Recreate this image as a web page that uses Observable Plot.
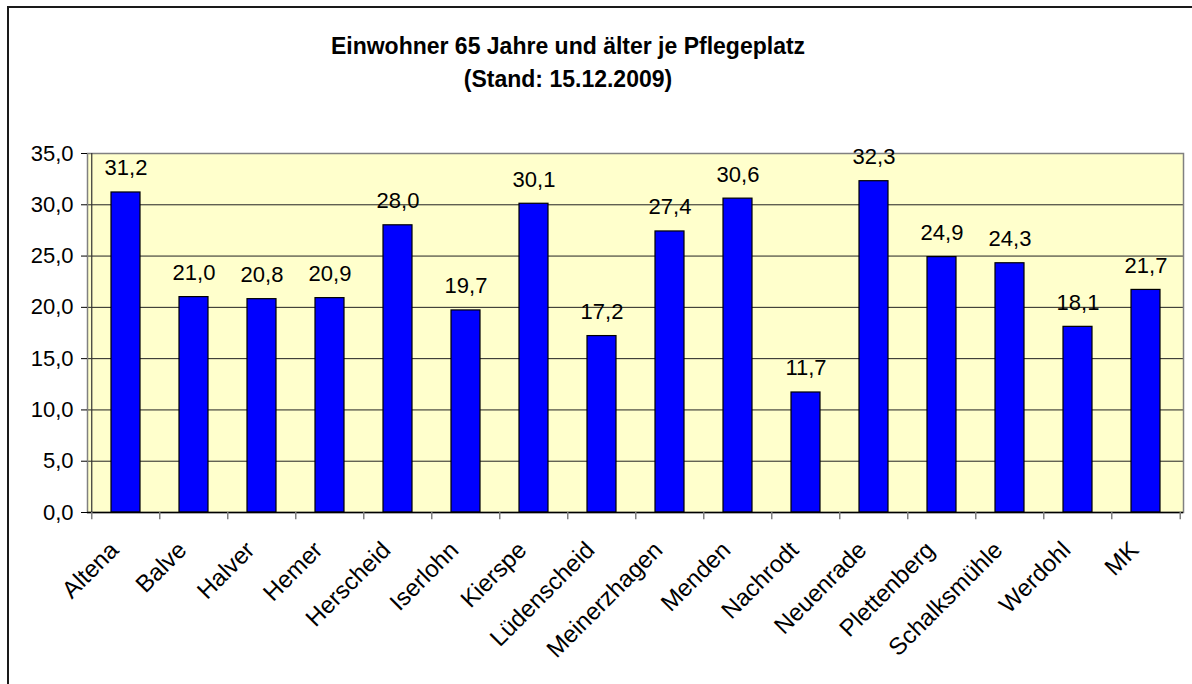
<!DOCTYPE html>
<html>
<head>
<meta charset="utf-8">
<script src="https://cdn.jsdelivr.net/npm/d3@7"></script>
<script src="https://cdn.jsdelivr.net/npm/@observablehq/plot@0.6"></script>
<style>
  html, body { margin: 0; padding: 0; background: #fff; }
  body { width: 1192px; height: 684px; position: relative; overflow: hidden; font-family: "Liberation Sans", Arial, sans-serif; }
  #frame { position: absolute; left: 7px; top: 6px; width: 1300px; height: 800px; border-left: 2px solid #1a1a1a; border-top: 2px solid #1a1a1a; }
  #title { position: absolute; left: 268px; width: 600px; top: 30px; text-align: center; font-weight: bold; font-size: 23px; line-height: 33px; color: #000; z-index: 2; }
  #chart { position: absolute; left: 0; top: 0; }
</style>
</head>
<body>
<div id="frame"></div>
<div id="title">Einwohner 65 Jahre und älter je Pflegeplatz<br>(Stand: 15.12.2009)</div>
<div id="chart"></div>
<script>
const categories = ["Altena", "Balve", "Halver", "Hemer", "Herscheid", "Iserlohn", "Kierspe", "Lüdenscheid", "Meinerzhagen", "Menden", "Nachrodt", "Neuenrade", "Plettenberg", "Schalksmühle", "Werdohl", "MK"];
const values = [31.2, 21.0, 20.8, 20.9, 28.0, 19.7, 30.1, 17.2, 27.4, 30.6, 11.7, 32.3, 24.9, 24.3, 18.1, 21.7];
const yTicks = [0, 5, 10, 15, 20, 25, 30, 35];

const data = categories.map((c, i) => ({ name: c, value: values[i] }));
const fmt = d => d.toFixed(1).replace(".", ",");

const W = 1192, H = 684, ML = 87, MR = 9, MT = 153, MB = 172;
const step = (W - ML - MR) / categories.length;

const plot = Plot.plot({
  width: W,
  height: H,
  marginLeft: ML,
  marginRight: MR,
  marginTop: MT,
  marginBottom: MB,
  style: { fontFamily: "'Liberation Sans', Arial, sans-serif", fontSize: "22px", color: "#000", background: "transparent", overflow: "visible" },
  x: { domain: categories, paddingInner: 0.577, paddingOuter: 0.2885, axis: null },
  y: { domain: [0, 35], axis: null },
  marks: [
    Plot.frame({ fill: "#ffffcc", stroke: null }),
    Plot.ruleY(yTicks.filter(d => d > 0), { stroke: "#222", strokeWidth: 1 }),
    Plot.frame({ stroke: "#808080", strokeWidth: 1.5 }),
    Plot.barY(data, { x: "name", y: "value", fill: "#0000ff", stroke: "#000", strokeWidth: 1.2 }),
    Plot.text(data, { x: "name", y: "value", text: d => fmt(d.value), dy: -17, lineAnchor: "bottom", fontSize: 22, fill: "#000" }),
    // y axis
    Plot.axisY({ ticks: yTicks, tickFormat: fmt, tickSize: 6, tickPadding: 8, fontSize: 22, stroke: "#000", label: null }),
    Plot.ruleX(categories.slice(0, 1), { x: d => d, y1: 0, y2: 35, dx: -step / 2, stroke: "#333", strokeWidth: 1.2 }),
    Plot.ruleY([0], { stroke: "#000", strokeWidth: 1.5 }),
    // x ticks at band boundaries
    Plot.ruleX(categories, { x: d => d, y1: 0, y2: -0.7, dx: -step / 2, stroke: "#808080", strokeWidth: 1.5 }),
    Plot.ruleX(categories.slice(-1), { x: d => d, y1: 0, y2: -0.7, dx: step / 2, stroke: "#808080", strokeWidth: 1.5 }),
    // x labels
    Plot.text(categories, { x: d => d, y: 0, text: d => d, rotate: -45, textAnchor: "end", lineAnchor: "bottom", dx: -6, dy: 39, fontSize: 24, fill: "#000" })
  ]
});
document.getElementById("chart").appendChild(plot);
</script>
</body>
</html>
